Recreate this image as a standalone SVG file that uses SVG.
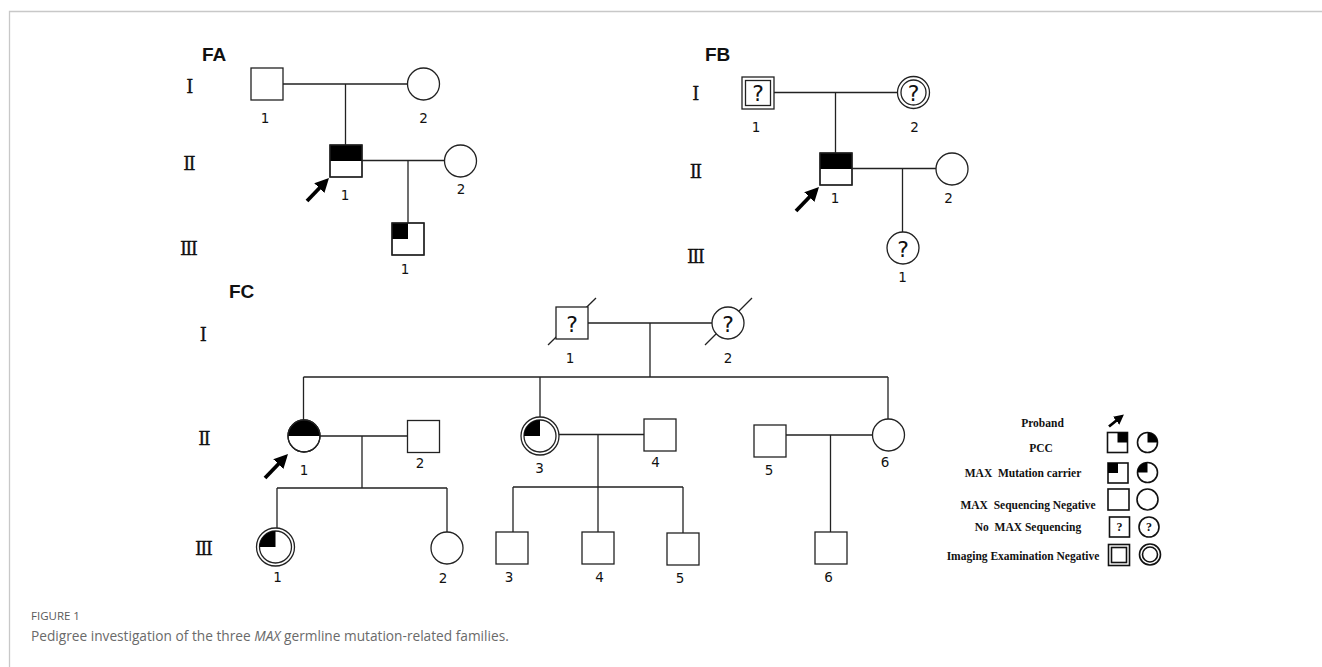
<svg xmlns="http://www.w3.org/2000/svg" width="1322" height="667" viewBox="0 0 1322 667">
<style>
.ln{fill:none;stroke:#222;stroke-width:1.3}
.nd{fill:#fff;stroke:#222;stroke-width:1.3}
.nf{fill:none;stroke:#222;stroke-width:1.3}
.blk{fill:#000}
.num{font-family:"DejaVu Sans",sans-serif;font-size:13.5px;fill:#111;text-anchor:middle}
.rom{font-family:"DejaVu Serif","Liberation Serif",serif;font-size:18px;fill:#111;stroke:#111;stroke-width:0.3;text-anchor:middle;letter-spacing:-1.8px}
.fam{font-family:"Liberation Sans",Arial,sans-serif;font-weight:bold;font-size:19px;fill:#111}
.q{font-family:"DejaVu Sans",sans-serif;font-size:22px;fill:#111;text-anchor:middle}
.lg{font-family:"Liberation Serif","Times New Roman",serif;font-weight:bold;font-size:11.5px;fill:#111;text-anchor:middle}
.lgs{fill:#fff;stroke:#111;stroke-width:1.6}
.lgq{font-family:"Liberation Serif",serif;font-weight:bold;font-size:12px;fill:#111;text-anchor:middle}
.arr{fill:none;stroke:#000;stroke-width:3.8}
.arr2{fill:none;stroke:#000;stroke-width:2.8}
.frame{fill:none;stroke:#c8c8c8;stroke-width:1.3}
.cap1{font-family:"Open Sans",sans-serif;font-size:11.5px;fill:#5a5a5a}
.cap2{font-family:"Open Sans",sans-serif;font-size:13.7px;fill:#6a6a6a}
</style>
<defs>
<marker id="ah" markerUnits="userSpaceOnUse" markerWidth="15" markerHeight="15" refX="3" refY="7" orient="auto">
<path d="M0,0 L14,7 L0,14 Z" fill="#000"/>
</marker>
<marker id="ah2" markerUnits="userSpaceOnUse" markerWidth="11" markerHeight="11" refX="2" refY="5" orient="auto">
<path d="M0,0 L10,5 L0,10 Z" fill="#000"/>
</marker>
</defs>
<rect width="1322" height="667" fill="#fff"/>
<path class="frame" d="M9.5,667 V11.5 H1322"/>

<g id="labels">
<text class="fam" x="202" y="61">FA</text>
<text class="fam" x="705" y="61">FB</text>
<text class="fam" x="229" y="298">FC</text>
<text class="rom" x="189" y="93">I</text>
<text class="rom" x="188.5" y="170">II</text>
<text class="rom" x="188" y="255">III</text>
<text class="rom" x="695" y="100">I</text>
<text class="rom" x="695" y="178">II</text>
<text class="rom" x="695" y="263">III</text>
<text class="rom" x="202.5" y="341">I</text>
<text class="rom" x="203.5" y="445">II</text>
<text class="rom" x="203" y="555">III</text>
</g>

<g id="connectors">
<path class="ln" d="M283,84 H408 M345.5,84 V145 M362,160.5 H444 M408,160.5 V223"/>
<path class="ln" d="M774,92.5 H898 M835.5,92.5 V153 M852,168.5 H936 M902.5,168.5 V232"/>
<path class="ln" d="M588,323 H712 M650,323 V377 M303.5,377 H888 M303.5,377 V420 M540,377 V417 M888,377 V419"/>
<path class="ln" d="M320,436 H407.5 M362,436 V488 M277,488 H447 M277,488 V528 M447,488 V532"/>
<path class="ln" d="M559,434.5 H644 M598,434.5 V487 M513,487 H683 M513,487 V532 M598,487 V532 M683,487 V533"/>
<path class="ln" d="M786,435 H873 M830.5,435 V532"/>
</g>

<g id="FA-I-1"><rect class="nd" x="251" y="68" width="32" height="32"/><text class="num" x="265" y="123">1</text></g>
<g id="FA-I-2"><circle class="nd" cx="423.5" cy="84" r="16"/><text class="num" x="423.5" y="123">2</text></g>
<g id="FA-II-1"><rect class="nd" x="330" y="145" width="32" height="32"/><rect class="blk" x="330" y="145" width="32" height="16"/><rect class="nf" x="330" y="145" width="32" height="32"/><text class="num" x="345" y="200">1</text>
<path class="arr" d="M307,201 L321.4,186" marker-end="url(#ah)"/></g>
<g id="FA-II-2"><circle class="nd" cx="460.5" cy="161" r="16"/><text class="num" x="461" y="194">2</text></g>
<g id="FA-III-1"><rect class="nd" x="392" y="223" width="32" height="32"/><rect class="blk" x="392" y="223" width="16" height="16"/><rect class="nf" x="392" y="223" width="32" height="32"/><text class="num" x="405" y="274">1</text></g>

<g id="FB-I-1"><rect class="nd" x="742" y="77" width="32" height="32"/><rect class="nf" x="745.5" y="80.5" width="25" height="25"/><text class="q" x="758" y="101">?</text><text class="num" x="756" y="132">1</text></g>
<g id="FB-I-2"><circle class="nd" cx="913.5" cy="92.5" r="16"/><circle class="nf" cx="913.5" cy="92.5" r="12.5"/><text class="q" x="913.5" y="101">?</text><text class="num" x="914.5" y="132">2</text></g>
<g id="FB-II-1"><rect class="nd" x="820" y="153" width="32" height="32"/><rect class="blk" x="820" y="153" width="32" height="16"/><rect class="nf" x="820" y="153" width="32" height="32"/><text class="num" x="835" y="203">1</text>
<path class="arr" d="M796,211 L811.4,195" marker-end="url(#ah)"/></g>
<g id="FB-II-2"><circle class="nd" cx="952" cy="169" r="16"/><text class="num" x="948.5" y="203">2</text></g>
<g id="FB-III-1"><circle class="nd" cx="903" cy="248" r="16"/><text class="q" x="903" y="256.5">?</text><text class="num" x="902.5" y="282">1</text></g>

<g id="FC-I-1"><path class="ln" d="M548,345 L596,298"/><rect class="nd" x="556" y="307" width="32" height="32"/><text class="q" x="572" y="331.5">?</text><text class="num" x="570" y="363">1</text></g>
<g id="FC-I-2"><path class="ln" d="M705,345 L752,298"/><circle class="nd" cx="728" cy="323" r="16"/><text class="q" x="728" y="331.5">?</text><text class="num" x="728" y="363">2</text></g>
<g id="FC-II-1"><circle class="nd" cx="304" cy="436" r="16"/><path class="blk" d="M288,436 A16,16 0 0 1 320,436 Z"/><circle class="nf" cx="304" cy="436" r="16"/><text class="num" x="304" y="475">1</text>
<path class="arr" d="M265,478 L280.4,462" marker-end="url(#ah)"/></g>
<g id="FC-II-2"><rect class="nd" x="407.5" y="420.5" width="32" height="32"/><text class="num" x="420" y="468">2</text></g>
<g id="FC-II-3"><circle class="nd" cx="540" cy="436" r="19"/><circle class="nf" cx="540" cy="436" r="16"/><path class="blk" d="M540,436 L524,436 A16,16 0 0 1 540,420 Z"/><text class="num" x="539.5" y="473">3</text></g>
<g id="FC-II-4"><rect class="nd" x="644" y="419" width="32" height="32"/><text class="num" x="655.5" y="467">4</text></g>
<g id="FC-II-5"><rect class="nd" x="754" y="425" width="32" height="32"/><text class="num" x="769" y="475">5</text></g>
<g id="FC-II-6"><circle class="nd" cx="888.5" cy="435" r="16"/><text class="num" x="885" y="467">6</text></g>
<g id="FC-III-1"><circle class="nd" cx="275.5" cy="547" r="19"/><circle class="nf" cx="275.5" cy="547" r="16"/><path class="blk" d="M275.5,547 L259.5,547 A16,16 0 0 1 275.5,531 Z"/><text class="num" x="277.5" y="582">1</text></g>
<g id="FC-III-2"><circle class="nd" cx="447" cy="548" r="16"/><text class="num" x="443" y="583">2</text></g>
<g id="FC-III-3"><rect class="nd" x="496" y="532" width="32" height="32"/><text class="num" x="509" y="582">3</text></g>
<g id="FC-III-4"><rect class="nd" x="582" y="532" width="32" height="32"/><text class="num" x="599.5" y="582">4</text></g>
<g id="FC-III-5"><rect class="nd" x="667" y="533" width="32" height="32"/><text class="num" x="680" y="583">5</text></g>
<g id="FC-III-6"><rect class="nd" x="815" y="532" width="32" height="32"/><text class="num" x="828.5" y="582">6</text></g>

<g id="legend">
<text class="lg" x="1042.5" y="427">Proband</text>
<path class="arr2" d="M1109,426.5 L1117.7,419.5" marker-end="url(#ah2)"/>
<text class="lg" x="1041" y="452">PCC</text>
<rect class="lgs" x="1107.5" y="432.5" width="20" height="20"/><rect class="blk" x="1117.5" y="432.5" width="10" height="10"/>
<circle class="lgs" cx="1147.5" cy="442.5" r="10"/><path class="blk" d="M1147.5,442.5 L1147.5,432.5 A10,10 0 0 1 1157.5,442.5 Z"/>
<text class="lg" x="1023" y="477" xml:space="preserve">MAX  Mutation carrier</text>
<rect class="lgs" x="1108" y="463" width="20" height="20"/><rect class="blk" x="1108" y="463" width="10" height="10"/>
<circle class="lgs" cx="1147.5" cy="472.5" r="10"/><path class="blk" d="M1147.5,472.5 L1137.5,472.5 A10,10 0 0 1 1147.5,462.5 Z"/>
<text class="lg" x="1028" y="508.5" xml:space="preserve">MAX  Sequencing Negative</text>
<rect class="lgs" x="1108" y="489" width="21" height="21"/>
<circle class="lgs" cx="1147.5" cy="499.5" r="10.5"/>
<text class="lg" x="1028" y="531" xml:space="preserve">No  MAX Sequencing</text>
<rect class="lgs" x="1109.5" y="517" width="20" height="20"/><text class="lgq" x="1119.5" y="531">?</text>
<circle class="lgs" cx="1149" cy="527" r="10"/><text class="lgq" x="1149" y="531">?</text>
<text class="lg" x="1023" y="560">Imaging Examination Negative</text>
<rect class="lgs" x="1108.5" y="544.5" width="21" height="21"/><rect class="lgs" x="1111.5" y="547.5" width="15" height="15"/>
<circle class="lgs" cx="1150" cy="554.5" r="10.5"/><circle class="lgs" cx="1150" cy="554.5" r="7.5"/>
</g>

<text class="cap1" x="31" y="620">FIGURE 1</text>
<text class="cap2" x="31" y="641">Pedigree investigation of the three <tspan font-style="italic">MAX</tspan> germline mutation-related families.</text>
</svg>
